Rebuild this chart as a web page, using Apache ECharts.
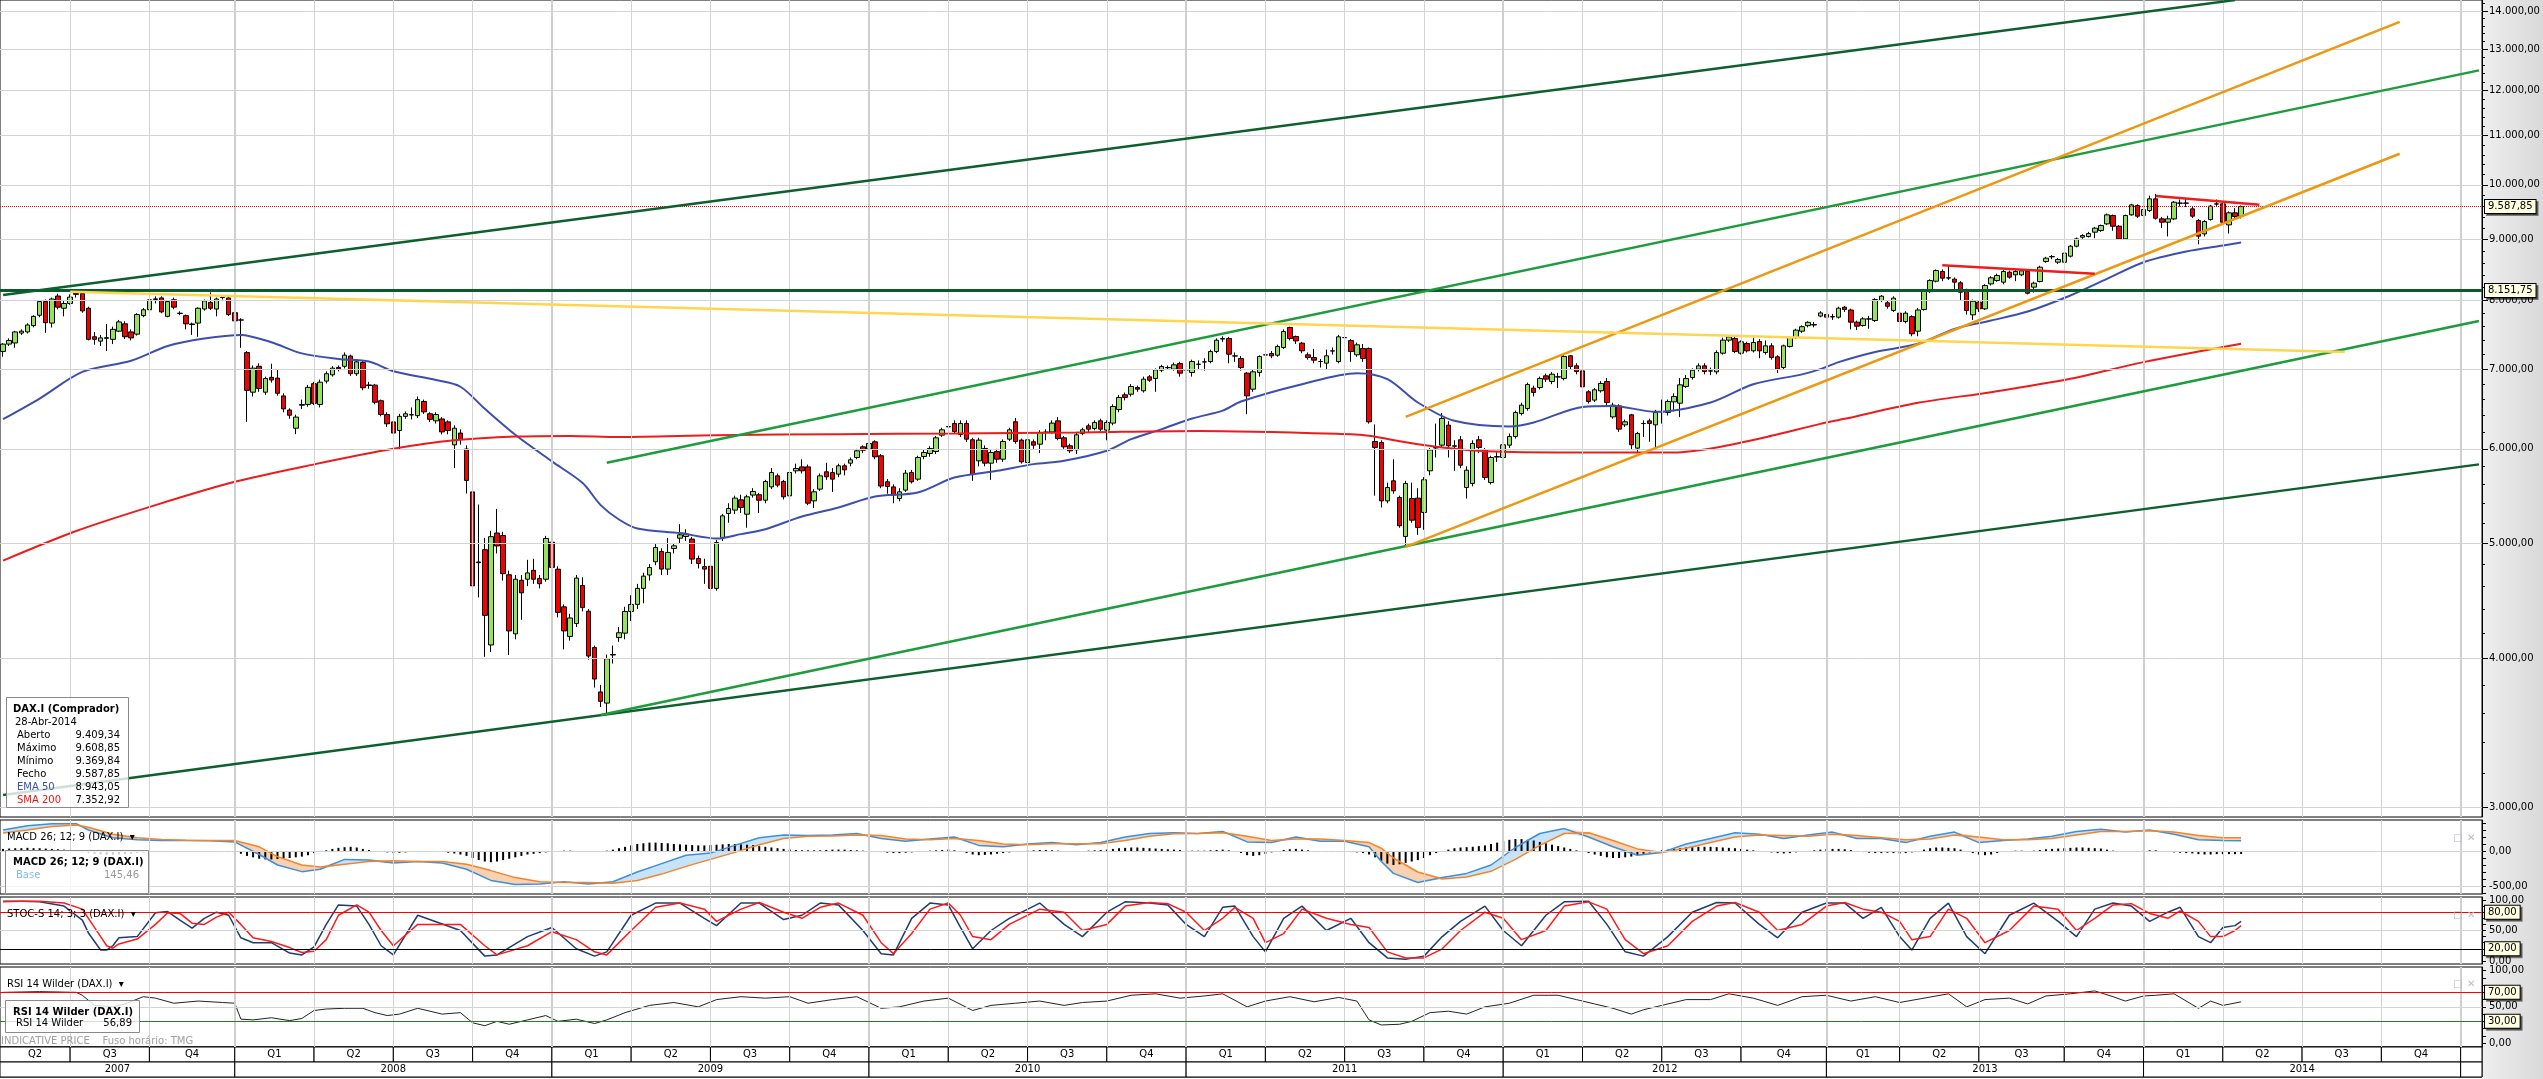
<!DOCTYPE html>
<html><head><meta charset="utf-8"><title>DAX.I weekly</title>
<script src="https://cdn.jsdelivr.net/npm/echarts@6/dist/echarts.min.js"></script>
<style>html,body{margin:0;padding:0;background:#fff;overflow:hidden}#chart{width:2543px;height:1079px}</style>
</head><body><div id="chart"></div>
<script>
// ---------------- DATA ----------------
const firstWeek = '2007-04-16';
const weekCount = 407;
// weekly candles [open, high, low, close], one per week from 2007-04-16
const candles = [
[7244,7360,7170,7348],[7348,7430,7320,7400],[7364,7540,7296,7523],[7507,7560,7480,7534],[7523,7650,7500,7625],
[7615,7770,7590,7753],[7770,8000,7740,7978],[7978,8010,7510,7659],[7653,8040,7588,8018],[8064,8100,7860,7893],
[7876,7990,7753,7949],[7949,8090,7930,8047],[8090,8152,8040,8105],[8104,8130,7808,7836],[7876,7900,7400,7416],
[7453,7520,7340,7416],[7390,7480,7322,7437],[7430,7640,7250,7440],[7416,7600,7348,7561],[7534,7700,7520,7670],
[7642,7680,7420,7453],[7523,7560,7400,7437],[7491,7800,7470,7780],[7764,7880,7740,7853],[7853,8030,7830,8006],
[8010,8060,7950,8020],[8035,8060,7800,7820],[7753,8000,7740,7978],[8006,8040,7860,7893],[7800,7830,7770,7797],
[7764,7780,7561,7642],[7640,7660,7480,7631],[7653,7890,7453,7876],[7864,8010,7840,7989],[7966,8122,7850,7876],
[7864,8040,7753,8018],[8040,8070,8010,8047],[8035,8060,7760,7780],[7808,7830,7640,7686],[7700,7725,7296,7697],
[7228,7250,6321,6719],[6695,7050,6640,7014],[7039,7080,6700,6743],[6695,6900,6660,6875],[6890,7074,6820,6855],
[6880,7000,6650,6681],[6647,6680,6440,6482],[6468,6490,6360,6403],[6244,6410,6173,6380],[6528,6600,6480,6538],
[6538,6790,6510,6758],[6806,6830,6530,6552],[6538,6860,6500,6826],[6840,6970,6810,6939],[6924,7040,6900,7014],
[7024,7050,6970,7004],[7039,7230,7010,7192],[7180,7200,6910,6939],[6939,7130,6910,7100],[7090,7110,6720,6753],
[6790,6830,6740,6782],[6787,6800,6540,6566],[6585,6600,6390,6412],[6412,6440,6260,6298],[6321,6340,6150,6186],
[6217,6420,5998,6389],[6389,6450,6360,6421],[6410,6500,6350,6407],[6398,6640,6370,6599],[6576,6600,6420,6445],
[6421,6440,6320,6352],[6334,6440,6300,6412],[6357,6380,6170,6200],[6321,6340,6170,6217],[6046,6280,5779,6244],
[6186,6230,6050,6111],[5998,6040,5504,5644],[5520,5560,4294,4603],[4820,5387,4500,4814],[4936,5050,4012,4347],
[4105,5120,4050,5062],[5098,5342,4900,4972],[5073,5110,4650,4712],[4702,4740,4026,4218],[4194,4700,4150,4662],
[4652,4700,4310,4541],[4662,4840,4600,4719],[4743,4850,4620,4662],[4669,4700,4580,4622],[4662,5070,4640,5044],
[5008,5100,4740,4770],[4753,4780,4330,4372],[4419,4440,4070,4218],[4173,4360,4140,4325],[4279,4700,4250,4672],
[4606,4680,4380,4413],[4382,4400,3990,4018],[4084,4100,3780,3843],[3748,3800,3640,3681],[3668,4030,3590,3997],
[4030,4100,3960,4026],[4164,4250,4130,4203],[4200,4420,4150,4380],[4380,4520,4300,4440],[4440,4620,4400,4580],
[4580,4720,4450,4690],[4700,4800,4650,4769],[4822,4990,4790,4957],[4919,4950,4700,4754],[4754,5050,4700,4910],
[4947,5000,4900,4973],[5047,5186,5000,5080],[5064,5136,5020,5087],[5038,5060,4800,4847],[4853,4880,4760,4806],
[4778,4850,4620,4754],[4780,4800,4540,4580],[4580,5030,4560,5005],[5054,5290,5020,5270],[5294,5400,5200,5346],
[5329,5480,5290,5454],[5436,5490,5300,5356],[5287,5490,5150,5468],[5486,5560,5460,5525],[5490,5510,5300,5432],
[5432,5650,5400,5632],[5574,5780,5550,5731],[5694,5720,5570,5593],[5632,5650,5440,5468],[5478,5760,5450,5731],
[5750,5830,5720,5776],[5794,5880,5720,5750],[5794,5820,5380,5401],[5425,5550,5350,5521],[5550,5720,5530,5694],
[5739,5840,5650,5684],[5731,5780,5520,5658],[5713,5830,5680,5806],[5806,5830,5700,5761],[5836,5900,5800,5874],
[5900,6000,5880,5977],[6023,6040,5950,5984],[5996,6080,5970,6062],[6082,6100,5880,5908],[5920,5940,5560,5583],
[5629,5660,5500,5578],[5574,5600,5400,5486],[5450,5560,5420,5521],[5539,5760,5520,5724],[5731,5760,5610,5629],
[5658,5920,5640,5900],[5911,5990,5880,5958],[5946,6030,5910,6004],[5969,6150,5940,6129],[6161,6250,6140,6225],
[6260,6290,6220,6265],[6302,6340,6180,6205],[6169,6340,6140,6302],[6302,6340,6080,6113],[6106,6130,5640,5709],
[5862,6130,5800,6102],[6004,6040,5800,5836],[5836,5990,5650,5958],[5969,6000,5840,5881],[5881,6110,5850,6086],
[6113,6250,6090,6225],[6322,6370,6060,6086],[6102,6120,5830,5851],[5843,6130,5820,6106],[6082,6110,6000,6043],
[6054,6220,5950,6193],[6195,6230,6100,6197],[6199,6340,6180,6306],[6334,6380,6100,6121],[6129,6150,6000,6023],
[6035,6060,5950,5977],[5988,6190,5940,6165],[6181,6250,6160,6225],[6273,6300,6200,6233],[6241,6340,6220,6314],
[6334,6360,6200,6233],[6221,6340,6100,6314],[6306,6540,6280,6512],[6474,6660,6440,6627],[6661,6690,6590,6627],
[6669,6800,6640,6769],[6756,6780,6700,6734],[6713,6900,6690,6866],[6897,6920,6830,6852],[6875,7010,6700,6991],
[6986,7060,6960,7036],[7020,7050,6990,7022],[7000,7090,6980,7059],[7077,7100,6900,6946],[6990,7040,6880,6991],
[6955,7130,6900,7104],[7065,7120,6990,7068],[7098,7150,6980,7100],[7104,7270,7080,7243],[7243,7430,7220,7404],
[7420,7460,7380,7428],[7428,7450,7080,7206],[7180,7230,7100,7183],[7146,7180,6980,7022],[6946,6960,6416,6648],
[6734,6990,6700,6964],[6955,7190,6900,7174],[7195,7250,7000,7197],[7215,7250,7150,7183],[7192,7340,7170,7314],
[7300,7560,7280,7529],[7588,7600,7400,7428],[7457,7470,7350,7394],[7361,7380,7220,7253],[7197,7230,7130,7160],
[7160,7280,7080,7123],[7105,7140,7022,7104],[7082,7270,7000,7183],[7250,7300,7200,7253],[7104,7480,7080,7452],
[7440,7500,7380,7442],[7399,7420,7100,7243],[7197,7370,7170,7338],[7286,7350,7100,7146],[7286,7300,6300,6322],
[6086,6290,5480,6016],[6074,6100,5356,5425],[5425,5620,5400,5567],[5640,5880,5500,5532],[5461,5480,5150,5170],
[5064,5640,4973,5611],[5450,5620,5200,5226],[5454,5560,5080,5153],[5305,5680,5130,5651],[5750,6010,5700,5988],
[6010,6300,5900,6016],[6043,6430,6010,6363],[6281,6330,5900,6035],[6030,6100,5750,6035],[6106,6150,5780,5813],
[5567,5800,5450,5757],[5611,6100,5580,6062],[6106,6150,5950,6016],[5988,6010,5650,5676],[5621,5920,5600,5900],
[5905,5960,5850,5911],[5900,6100,5880,6047],[6043,6180,6010,6145],[6145,6460,6120,6437],[6424,6560,6400,6529],
[6487,6820,6460,6795],[6747,6780,6640,6691],[6756,6900,6730,6875],[6910,6940,6830,6866],[6835,6960,6800,6932],
[6895,6950,6750,6897],[6875,7190,6850,7174],[7183,7194,7000,7036],[7045,7080,6930,6968],[6977,7050,6740,6765],
[6700,6720,6550,6576],[6593,6750,6570,6726],[6713,6840,6690,6809],[6835,6880,6520,6563],[6383,6560,6360,6529],
[6520,6540,6200,6233],[6285,6350,6260,6322],[6408,6420,5990,6047],[6008,6200,5950,6181],[6300,6340,6140,6302],
[6334,6360,6082,6302],[6285,6470,6020,6437],[6445,6600,6300,6449],[6437,6600,6400,6576],[6571,6680,6450,6639],
[6554,6880,6380,6791],[6769,6920,6750,6875],[6888,7010,6860,6986],[7000,7080,6970,7045],[7045,7080,6930,6968],
[6975,7020,6920,6977],[6964,7260,6930,7229],[7220,7440,7200,7404],[7404,7470,7380,7452],[7428,7450,7220,7243],
[7220,7400,7200,7380],[7357,7380,7230,7253],[7253,7440,7230,7371],[7385,7420,7150,7253],[7229,7400,7200,7323],
[7323,7360,7130,7160],[7169,7190,6950,7000],[7022,7340,7000,7323],[7314,7460,7300,7442],[7442,7570,7420,7549],
[7534,7620,7510,7600],[7615,7680,7590,7664],[7625,7670,7590,7630],[7758,7830,7740,7805],[7781,7800,7700,7741],
[7745,7790,7700,7749],[7741,7900,7720,7877],[7892,7910,7820,7857],[7849,7870,7560,7667],[7667,7690,7550,7607],
[7617,7740,7600,7716],[7712,7760,7570,7716],[7691,8030,7670,8010],[7995,8080,7970,8062],[7959,7990,7870,7907],
[7842,8060,7820,8031],[7801,7820,7650,7676],[7676,7830,7650,7801],[7749,7770,7460,7496],[7534,7880,7460,7849],
[7857,8160,7840,8140],[8133,8330,8110,8310],[8299,8490,8280,8472],[8456,8490,8300,8348],[8350,8557,8320,8354],
[8332,8360,8150,8284],[8273,8300,8000,8124],[8151,8180,7780,7842],[7776,8010,7700,7984],[7969,8000,7820,7867],
[7867,8250,7850,8230],[8256,8380,8230,8354],[8310,8420,8290,8391],[8284,8480,8250,8456],[8445,8470,8340,8364],
[8402,8480,8300,8456],[8402,8490,8380,8467],[8456,8480,8090,8109],[8204,8290,8120,8267],[8294,8550,8280,8527],
[8621,8700,8600,8677],[8700,8730,8660,8705],[8610,8680,8580,8655],[8610,8790,8590,8762],[8711,8900,8690,8881],
[8881,9030,8860,9008],[9037,9090,9010,9066],[9048,9130,9030,9101],[9125,9220,9020,9196],[9154,9260,9130,9243],
[9273,9460,9250,9436],[9424,9440,9150,9231],[9231,9250,8990,9008],[9008,9440,8990,9424],[9436,9640,9420,9620],
[9608,9630,9380,9412],[9424,9600,9400,9534],[9515,9794,9490,9733],[9733,9827,9350,9375],[9363,9400,9200,9303],
[9303,9420,9050,9363],[9363,9690,9340,9670],[9655,9720,9590,9651],[9650,9730,9580,9655],[9546,9600,9380,9412],
[9333,9360,8913,9055],[9095,9340,9050,9315],[9351,9620,9330,9596],[9635,9720,9600,9639],[9639,9660,9280,9303],
[9255,9500,9100,9473],[9473,9560,9350,9406],[9409.34,9608.85,9369.84,9587.85]
];
// EMA 50 and SMA 200 read at week positions [weekIndex, value]
const ema50 = [[0,6354],[6,6613],[13,6963],[21,7114],[27,7321],[33,7427],[39,7480],[44,7374],[49,7217],[55,7139],[60,7104],[64,6973],[71,6854],[75,6766],[79,6483],[84,6165],[90,5856],[95,5618],[98,5381],[101,5233],[104,5143],[111,5097],[117,5044],[121,5087],[125,5136],[131,5264],[137,5356],[143,5471],[150,5514],[156,5676],[163,5750],[169,5825],[174,5862],[181,5977],[185,6113],[190,6233],[195,6363],[200,6460],[203,6576],[213,6799],[222,6946],[227,6866],[232,6563],[238,6334],[247,6265],[251,6314],[259,6507],[264,6520],[271,6445],[280,6563],[287,6799],[295,6930],[298,7000],[301,7096],[307,7236],[314,7352],[320,7568],[326,7691],[332,7826],[339,8073],[345,8337],[351,8610],[358,8790],[364,8892],[367,8943.05]];
const sma200 = [[0,4833],[12,5118],[25,5381],[38,5629],[51,5822],[64,6000],[74,6099],[84,6144],[93,6152],[101,6140],[117,6161],[137,6173],[156,6181],[176,6193],[196,6212],[221,6173],[224,6153],[232,6054],[242,5977],[255,5958],[274,5958],[281,6016],[290,6153],[298,6297],[302,6359],[314,6559],[326,6695],[339,6870],[351,7096],[367,7352.92]];
// drawn trend lines [weekIndex, price]
const lineDarkGreenTop = [[0,8080],[366,14300]];
const lineDarkGreenBottom = [[0,3070],[406,5822]];
const lineGreenTop = [[99,5840],[406,12480]];
const lineGreenBottom = [[98,3585],[406,7683]];
const lineOrangeTop = [[230,6382],[393,13710]];
const lineOrangeBottom = [[230,4963],[393,10620]];
const lineYellow = [[11,8132],[384,7236]];
const lineRed1 = [[318,8560],[343,8421]];
const lineRed2 = [[353,9786],[370,9621]];
const resistanceLevel = 8151.75;
// MACD 26;12;9 (read every few weeks)
const macdIdx = [0,4,8,12,14,18,22,26,30,34,38,42,45,49,52,56,60,64,68,72,76,80,84,88,92,96,100,104,108,112,116,120,124,128,132,136,140,144,148,152,156,160,164,168,172,176,180,184,188,192,196,200,204,208,212,216,220,224,226,228,232,236,240,244,248,252,256,260,264,268,272,276,280,284,288,292,296,300,304,308,312,316,320,324,328,332,336,340,344,348,352,356,360,364,367];
const macdLine = [300,360,390,390,300,190,160,150,150,145,130,-50,-200,-295,-260,-120,-130,-170,-150,-170,-260,-420,-480,-470,-440,-470,-440,-300,-180,-60,-30,80,190,230,220,230,250,180,140,170,200,80,60,100,120,90,120,200,250,260,250,280,130,120,200,140,140,60,-150,-320,-450,-380,-320,-200,50,250,320,200,60,-60,-20,100,180,260,240,180,230,270,180,180,120,210,270,120,150,170,210,280,310,270,300,240,160,150,145.46];
const macdSignal = [257,300,350,371,340,240,190,165,155,150,150,60,-80,-200,-230,-190,-150,-140,-150,-150,-190,-280,-380,-440,-450,-450,-460,-420,-330,-220,-120,-20,90,180,210,215,230,220,170,160,180,150,100,90,105,105,105,150,210,245,250,260,210,150,170,170,150,120,40,-100,-300,-400,-370,-290,-120,80,250,260,150,30,-20,40,120,200,230,220,210,240,220,190,160,170,230,200,160,160,180,230,280,280,290,270,220,190,188];
// MACD histogram, one bar per week
const macdHist = [
30,35,40,40,45,40,40,35,30,25,20,15,
-10,-20,-30,-40,-50,-55,-55,-50,-45,-40,-30,-25,
-15,-10,-8,-5,-5,-5,-5,-5,-5,-5,-8,-10,-12,-15,-20,
-40,-70,-90,-110,-120,-120,-115,-110,-100,-90,-80,-60,
-30,-10,10,30,45,55,60,50,30,15,
0,-10,-20,-25,-25,-20,-10,-5,0,-5,-10,-15,
-25,-35,-50,-70,-100,-130,-150,-160,-150,-130,-110,-90,-70,-50,-40,-30,
-20,-10,0,5,5,0,-5,-10,-10,-5,5,20,
40,60,80,100,110,120,120,115,110,100,95,90,85,80,80,85,90,95,100,100,95,90,85,70,
60,50,40,30,20,15,10,10,10,10,15,20,20,20,15,10,5,0,-5,
-15,-25,-30,-30,-25,-20,-10,0,5,10,15,20,10,-10,-30,-50,-60,
-55,-50,-40,-30,-20,-10,0,5,10,15,15,10,5,0,-5,-5,0,5,10,15,20,30,40,
45,50,50,45,40,35,30,25,20,15,10,5,5,5,10,15,20,
10,-10,-30,-60,-70,-60,-40,-20,0,15,25,30,
20,10,0,-10,-15,-15,-10,-10,-15,-20,-30,
-50,-90,-140,-180,-200,-190,-170,-150,-130,-100,-60,-30,0,20,40,50,55,
60,70,80,100,120,140,160,170,170,160,150,130,110,90,70,50,30,10,-10,
-30,-50,-70,-90,-100,-100,-90,-80,-60,-40,-20,0,
10,20,30,40,50,55,60,60,60,55,50,45,40,30,20,10,
0,-10,-20,-30,-35,-30,-20,-10,0,10,20,25,
30,30,25,15,0,-15,-25,-30,-30,-25,-30,-35,
-30,-20,0,20,40,50,50,45,40,20,0,-30,
-50,-60,-50,-30,-10,0,5,5,0,5,15,25,
30,35,40,45,50,50,45,40,35,20,5,-10,
-10,-5,0,5,10,10,0,-10,-20,-25,-30,-35,
-45,-50,-50,-45,-45,-45,-45,-43];
// Stochastic slow 14;3;3
const stochIdx = [0,3,6,10,13,14,16,17,18,19,22,25,27,29,31,33,35,37,39,41,44,47,49,51,53,55,58,60,62,64,68,75,79,81,86,90,94,97,99,103,107,111,115,117,121,124,128,131,134,137,141,144,146,149,152,155,157,159,162,165,170,174,177,181,184,188,191,194,197,200,202,205,207,210,213,217,221,224,227,230,233,236,239,243,246,249,253,256,260,263,266,269,273,277,281,284,288,291,295,299,302,305,308,311,313,316,319,322,325,329,333,337,340,343,346,349,352,355,357,360,362,364,366,367];
const stochK = [98,98,97,90,67,46,18,18,25,38,40,79,81,67,54,70,80,75,38,30,30,13,10,23,60,92,90,60,25,10,75,50,8,10,40,55,20,8,15,75,95,95,70,58,95,95,68,75,95,92,50,12,10,70,95,92,55,20,50,70,95,60,40,80,97,95,92,60,40,88,90,40,15,70,90,50,70,30,5,3,8,40,65,90,50,25,75,97,98,60,15,8,40,80,96,95,60,38,80,95,95,70,88,40,18,70,95,40,12,75,95,65,40,85,95,90,65,80,88,40,30,55,58,65];
const stochD = [97,98,98,95,85,70,40,25,21,28,36,60,79,78,62,60,72,80,60,38,32,22,14,16,35,75,92,80,50,25,60,60,25,10,25,48,35,15,10,50,88,95,85,65,85,96,80,70,88,95,75,30,12,45,85,95,75,40,35,60,85,80,50,60,90,96,94,80,50,70,88,70,30,45,85,70,60,55,15,5,5,20,50,80,70,35,50,90,97,85,35,12,25,65,90,96,80,50,60,90,96,85,80,65,35,40,85,70,30,50,90,85,50,70,92,94,78,70,82,65,40,40,50,58];
// RSI 14 Wilder
const rsiIdx = [0,6,12,13,15,18,20,23,25,28,32,36,38,39,41,44,47,49,51,53,56,59,61,63,65,68,72,75,77,79,81,83,86,89,91,94,97,99,102,106,110,114,117,121,125,129,132,136,140,144,147,151,155,159,162,166,170,174,177,181,185,189,193,197,200,204,207,211,215,219,222,224,226,229,231,234,237,240,243,247,251,255,258,261,264,267,269,272,276,280,283,287,291,295,299,303,307,311,315,319,322,325,329,332,335,339,343,346,348,351,353,356,360,362,364,367];
const rsiVal = [70,71,70,66,52,50,54,64,62,55,58,56,55,33,32,35,31,34,45,47,48,48,42,38,40,48,40,42,28,24,30,26,32,38,30,33,27,32,42,52,56,50,60,64,62,64,55,60,64,48,50,58,62,45,52,55,58,52,56,58,66,68,62,65,68,50,58,64,57,63,58,32,25,26,30,42,44,40,50,55,66,66,60,54,48,40,46,52,60,60,68,62,52,64,66,58,64,56,62,68,50,60,62,54,65,68,72,64,58,65,66,68,48,58,52,56.89];
// axis ticks
const priceTicks = [3000,4000,5000,6000,7000,8000,9000,10000,11000,12000,13000,14000];
// time axis cells
const quarterStartIdx = [11,24,38,51,64,77,90,103,116,129,142,155,168,181,194,207,220,233,246,259,272,285,299,311,324,338,351,364,377,390,403];
const quarterNames = ['Q2','Q3','Q4','Q1','Q2','Q3','Q4','Q1','Q2','Q3','Q4','Q1','Q2','Q3','Q4','Q1','Q2','Q3','Q4','Q1','Q2','Q3','Q4','Q1','Q2','Q3','Q4','Q1','Q2','Q3','Q4',''];
const yearStartIdx = [38,90,142,194,246,299,351,403];
const yearNames = ['2007','2008','2009','2010','2011','2012','2013','2014',''];

// ---------------- HELPERS ----------------
const FONT = 'DejaVu Sans';
function fmt(v, d) {
  if (d === undefined) d = 2;
  const neg = v < 0; const s = Math.abs(v).toFixed(d);
  const parts = s.split('.');
  const i = parts[0].replace(/\B(?=(\d{3})+(?!\d))/g, '.');
  return (neg ? '-' : '') + i + (parts[1] ? ',' + parts[1] : '');
}
const weeks = [];
{ const t0 = Date.parse(firstWeek + 'T00:00:00Z');
  for (let i = 0; i < weekCount; i++) weeks.push(new Date(t0 + i * 7 * 86400000).toISOString().slice(0, 10)); }
const kData = candles.map(r => [r[0], r[3], r[2], r[1]]);
const pair = (idx, vals) => idx.map((x, k) => [x, vals[k]]);
const yMinMain = 2942.5, yMaxMain = 14301;
const lnMajor = priceTicks.map(v => Math.log(v));
const lnMinor = [];
for (let v = 3000; v <= 14200; v += 200) if (v % 1000 !== 0) lnMinor.push(Math.log(v));
const range = (a, b, s) => { const r = []; for (let v = a; v <= b + 1e-9; v += s) r.push(v); return r; };

function vLines() {
  return quarterStartIdx.map(q => {
    const yr = yearStartIdx.indexOf(q) >= 0;
    return { xAxis: q, lineStyle: { color: yr ? '#cfcfcf' : '#d3d3d3', width: yr ? 2 : 1, type: 'solid' } };
  });
}
function tag(t) {
  return { show: true, position: 'end', formatter: t, distance: 3, color: '#000', fontFamily: FONT, fontSize: 10,
    backgroundColor: '#ffffe1', borderColor: '#000', borderWidth: 1, padding: [2, 3, 1, 3],
    shadowColor: 'rgba(0,0,0,0.45)', shadowOffsetX: 2, shadowOffsetY: 2, shadowBlur: 0 };
}
function trend(d, color, w) {
  return { type: 'line', xAxisIndex: 0, yAxisIndex: 0, data: d, symbol: 'none', silent: true, z: 5,
    lineStyle: { color: color, width: w || 2.5 } };
}
const gline = (v, c) => ({ yAxis: v, lineStyle: { color: c || '#d3d3d3', width: 1, type: 'solid' } });

// MACD band (fill between MACD and signal)
const bandBase = macdIdx.map((x, k) => [x, Math.min(macdLine[k], macdSignal[k])]);
const bandUp = macdIdx.map((x, k) => [x, Math.max(macdLine[k] - macdSignal[k], 0)]);
const bandDn = macdIdx.map((x, k) => [x, Math.max(macdSignal[k] - macdLine[k], 0)]);

// date row cells
const qCells = [];
for (let k = 0; k <= quarterStartIdx.length; k++) {
  const a = { yAxis: 1, name: quarterNames[k] }, b = { yAxis: 2 };
  if (k > 0) a.xAxis = quarterStartIdx[k - 1];
  if (k < quarterStartIdx.length) b.xAxis = quarterStartIdx[k];
  qCells.push([a, b]);
}
const yCells = [];
for (let k = 0; k <= yearStartIdx.length; k++) {
  const a = { yAxis: 0, name: yearNames[k] }, b = { yAxis: 1 };
  if (k > 0) a.xAxis = yearStartIdx[k - 1];
  if (k < yearStartIdx.length) b.xAxis = yearStartIdx[k];
  yCells.push([a, b]);
}

const last = candles[candles.length - 1];
const axisLbl = { color: '#000', fontFamily: FONT, fontSize: 10, margin: 7 };
const gridBase = { left: 0, width: 2482, show: true, borderColor: '#000', borderWidth: 1, backgroundColor: '#fff' };
const valAxis = (gi, mn, mx, ticks, labels) => ({ type: 'value', gridIndex: gi, position: 'right', min: mn, max: mx,
  axisLine: { show: true, onZero: false, lineStyle: { color: '#000' } },
  axisTick: { show: true, customValues: ticks, length: 4, lineStyle: { color: '#000' } },
  axisLabel: Object.assign({ customValues: labels, formatter: v => fmt(v) }, axisLbl), splitLine: { show: false } });
const markLines = (data) => ({ silent: true, symbol: ['none', 'none'], animation: false, label: { show: false }, data: data });
const txt = (x, y, t, o) => ({ type: 'text', z: 101, silent: true, style: Object.assign({ x: x, y: y, text: t, font: '10px "DejaVu Sans"', fill: '#000', verticalAlign: 'middle' }, o || {}) });
const box = (x, y, w, h) => ({ type: 'rect', z: 100, silent: true, shape: { x: x, y: y, width: w, height: h }, style: { fill: 'rgba(255,255,255,0.8)', stroke: '#8a8a8a', lineWidth: 1 } });

const option = {
  animation: false,
  backgroundColor: '#fff',
  grid: [
    Object.assign({ top: 0, height: 817 }, gridBase),
    Object.assign({ top: 820, height: 74 }, gridBase),
    Object.assign({ top: 897, height: 67 }, gridBase),
    Object.assign({ top: 967, height: 80 }, gridBase),
    Object.assign({ top: 1047, height: 30 }, gridBase)
  ],
  xAxis: [0, 1, 2, 3, 4].map(i => ({ type: 'category', gridIndex: i, data: weeks, show: false, boundaryGap: true })),
  yAxis: [
    { type: 'log', logBase: 10, gridIndex: 0, min: yMinMain, max: yMaxMain, show: false },
    { type: 'value', gridIndex: 0, position: 'right', min: Math.log(yMinMain), max: Math.log(yMaxMain),
      axisLine: { show: true, onZero: false, lineStyle: { color: '#000' } },
      axisTick: { show: true, customValues: lnMajor, length: 6, lineStyle: { color: '#000' } },
      axisLabel: Object.assign({ customValues: lnMajor, formatter: v => fmt(Math.round(Math.exp(v))) }, axisLbl),
      splitLine: { show: false } },
    { type: 'value', gridIndex: 0, position: 'right', min: Math.log(yMinMain), max: Math.log(yMaxMain),
      axisLine: { show: false }, axisTick: { show: true, customValues: lnMinor, length: 3, lineStyle: { color: '#000' } },
      axisLabel: { show: false }, splitLine: { show: false } },
    valAxis(1, -614.3, 442.9, range(-600, 400, 100), [-500, 0]),
    valAxis(2, -4.92, 104.92, range(0, 100, 10), [0, 50, 100]),
    valAxis(3, -5.38, 104.97, range(0, 100, 10), [0, 50, 100]),
    { type: 'value', gridIndex: 4, min: 0, max: 2, show: false }
  ],
  series: [
    // ---- main panel
    { type: 'line', xAxisIndex: 0, yAxisIndex: 0, data: [], z: 1, silent: true, symbol: 'none',
      markLine: markLines(priceTicks.map(v => gline(v)).concat(vLines())) },
    { type: 'candlestick', name: 'DAX.I', xAxisIndex: 0, yAxisIndex: 0, data: kData, z: 3, barWidth: 5,
      itemStyle: { color: '#93e35e', color0: '#f40000', borderColor: '#000', borderColor0: '#000', borderWidth: 1 },
      markLine: { silent: true, symbol: ['none', 'none'], animation: false, data: [
        { yAxis: resistanceLevel, lineStyle: { color: '#0b5a2b', width: 3, type: 'solid' }, label: tag(fmt(resistanceLevel)) },
        { yAxis: last[3], lineStyle: { color: '#ff0000', width: 1, type: 'dotted' }, label: tag(fmt(last[3])) } ] } },
    { type: 'line', name: 'EMA 50', xAxisIndex: 0, yAxisIndex: 0, data: ema50, smooth: 0.3, symbol: 'none', z: 4,
      lineStyle: { color: '#3c4fae', width: 2 } },
    { type: 'line', name: 'SMA 200', xAxisIndex: 0, yAxisIndex: 0, data: sma200, smooth: 0.3, symbol: 'none', z: 4,
      lineStyle: { color: '#ec1c1c', width: 2 } },
    trend(lineDarkGreenTop, '#0d5f2e'), trend(lineDarkGreenBottom, '#0d5f2e'),
    trend(lineGreenTop, '#1c9c3c'), trend(lineGreenBottom, '#1c9c3c'),
    trend(lineOrangeTop, '#ec9810'), trend(lineOrangeBottom, '#ec9810'),
    trend(lineYellow, '#ffd54f'), trend(lineRed1, '#ee1c1c'), trend(lineRed2, '#ee1c1c'),
    // ---- MACD panel
    { type: 'line', xAxisIndex: 1, yAxisIndex: 3, data: [], z: 1, silent: true, symbol: 'none',
      markLine: markLines(vLines().concat([gline(0), gline(-500)])) },
    { type: 'line', xAxisIndex: 1, yAxisIndex: 3, data: bandBase, stack: 'band', stackStrategy: 'all', symbol: 'none', lineStyle: { width: 0, opacity: 0 }, z: 2, silent: true },
    { type: 'line', xAxisIndex: 1, yAxisIndex: 3, data: bandUp, stack: 'band', stackStrategy: 'all', symbol: 'none', lineStyle: { width: 0, opacity: 0 }, areaStyle: { color: '#c6e3f7', opacity: 1 }, z: 2, silent: true },
    { type: 'line', xAxisIndex: 1, yAxisIndex: 3, data: bandDn, stack: 'band', stackStrategy: 'all', symbol: 'none', lineStyle: { width: 0, opacity: 0 }, areaStyle: { color: '#f9d0b0', opacity: 1 }, z: 2, silent: true },
    { type: 'bar', xAxisIndex: 1, yAxisIndex: 3, data: macdHist, barWidth: 2, itemStyle: { color: '#000' }, z: 3, silent: true },
    { type: 'line', name: 'MACD', xAxisIndex: 1, yAxisIndex: 3, data: pair(macdIdx, macdLine), symbol: 'none', z: 4, lineStyle: { color: '#3d8fdb', width: 1.5 } },
    { type: 'line', name: 'Signal', xAxisIndex: 1, yAxisIndex: 3, data: pair(macdIdx, macdSignal), symbol: 'none', z: 4, lineStyle: { color: '#f4842a', width: 1.5 } },
    // ---- Stochastic panel
    { type: 'line', xAxisIndex: 2, yAxisIndex: 4, data: [], z: 1, silent: true, symbol: 'none',
      markLine: { silent: true, symbol: ['none', 'none'], animation: false, label: { show: false },
        data: vLines().concat([gline(50),
          { yAxis: 80, lineStyle: { color: '#ff0000', width: 1, type: 'solid' }, label: tag('80,00') },
          { yAxis: 20, lineStyle: { color: '#000', width: 1, type: 'solid' }, label: tag('20,00') } ]) } },
    { type: 'line', name: '%K', xAxisIndex: 2, yAxisIndex: 4, data: pair(stochIdx, stochK), symbol: 'none', z: 4, lineStyle: { color: '#1f3c70', width: 1.5 } },
    { type: 'line', name: '%D', xAxisIndex: 2, yAxisIndex: 4, data: pair(stochIdx, stochD), symbol: 'none', z: 4, lineStyle: { color: '#ff1a1a', width: 1.5 } },
    // ---- RSI panel
    { type: 'line', xAxisIndex: 3, yAxisIndex: 5, data: [], z: 1, silent: true, symbol: 'none',
      markLine: { silent: true, symbol: ['none', 'none'], animation: false, label: { show: false },
        data: vLines().concat([gline(50),
          { yAxis: 70, lineStyle: { color: '#ff0000', width: 1, type: 'solid' }, label: tag('70,00') },
          { yAxis: 30, lineStyle: { color: '#2a7d2a', width: 1, type: 'solid' }, label: tag('30,00') } ]) } },
    { type: 'line', name: 'RSI', xAxisIndex: 3, yAxisIndex: 5, data: pair(rsiIdx, rsiVal), symbol: 'none', z: 4, lineStyle: { color: '#222', width: 1 } },
    // ---- date rows
    { type: 'line', xAxisIndex: 4, yAxisIndex: 6, data: [], silent: true, symbol: 'none',
      markArea: { silent: true, itemStyle: { color: '#fff', borderColor: '#000', borderWidth: 1 },
        label: { show: true, position: 'inside', color: '#000', fontFamily: FONT, fontSize: 10 },
        data: qCells.concat(yCells) } }
  ],
  graphic: { elements: [
    { type: 'rect', z: -1, silent: true, shape: { x: 2483, y: 0, width: 60, height: 1079 },
      style: { fill: new echarts.graphic.LinearGradient(0, 0, 1, 0, [{ offset: 0, color: '#eeeeee' }, { offset: 1, color: '#d9d9d9' }]) } },
    box(6.5, 697.5, 122, 110),
    txt(13, 709, 'DAX.I (Comprador)', { font: 'bold 10px "DejaVu Sans"' }),
    txt(15, 722, '28-Abr-2014'),
    ...['Aberto', 'Máximo', 'Mínimo', 'Fecho', 'EMA 50', 'SMA 200'].map((t, k) =>
      txt(17, 735 + 13 * k, t, { fill: k === 4 ? '#3c4fae' : (k === 5 ? '#ee1111' : '#000') })),
    ...[last[0], last[1], last[2], last[3], ema50[ema50.length - 1][1], sma200[sma200.length - 1][1]].map((v, k) =>
      txt(120, 735 + 13 * k, fmt(v), { align: 'right' })),
    // MACD labels
    txt(7, 837, 'MACD 26; 12; 9 (DAX.I)  \u25BE'),
    box(5.5, 850.5, 143, 43),
    txt(13, 862, 'MACD 26; 12; 9 (DAX.I)', { font: 'bold 10px "DejaVu Sans"' }),
    txt(16, 875, 'Base', { fill: '#86b8e6' }),
    txt(139, 875, fmt(macdLine[macdLine.length - 1]), { fill: '#999', align: 'right' }),
    // STOC label
    txt(7, 914, 'STOC-S 14; 3; 3 (DAX.I)  \u25BE'),
    // RSI labels
    txt(7, 984, 'RSI 14 Wilder (DAX.I)  \u25BE'),
    box(5.5, 1000.5, 134, 32),
    txt(13, 1012, 'RSI 14 Wilder (DAX.I)', { font: 'bold 10px "DejaVu Sans"' }),
    txt(16, 1023, 'RSI 14 Wilder'),
    txt(132, 1023, fmt(rsiVal[rsiVal.length - 1]), { align: 'right' }),
    txt(1, 1041, 'INDICATIVE PRICE    Fuso horário: TMG', { fill: '#a0a0a0' }),
    // panel icons
    ...[838, 915, 984].map(y => txt(2453, y, '\u25A1', { fill: '#b4bcc8' })),
    ...[838, 915, 984].map(y => txt(2467, y, '\u2715', { fill: '#b4bcc8' }))
  ] }
};
const chart = echarts.init(document.getElementById('chart'), null, { renderer: 'canvas', width: 2543, height: 1079 });
chart.setOption(option);
</script></body></html>
